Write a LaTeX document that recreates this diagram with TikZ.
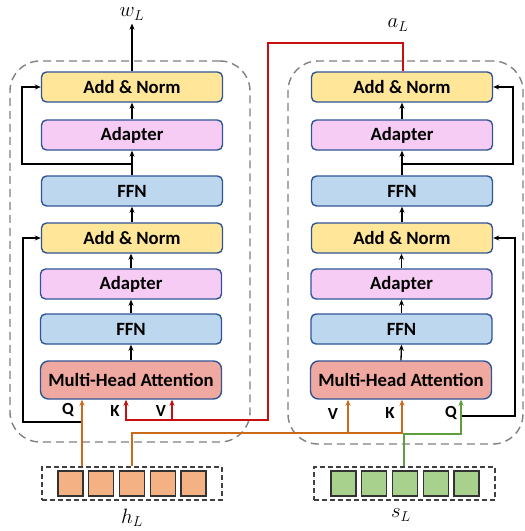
\documentclass[tikz,border=0pt]{standalone}
\usepackage{fontspec}
\setmainfont{Carlito}
\usetikzlibrary{arrows.meta,calc}
\definecolor{bordc}{HTML}{2F5597}
\definecolor{ancol}{HTML}{FFE699}
\definecolor{adcol}{HTML}{F6CCF5}
\definecolor{ffcol}{HTML}{BDD7EE}
\definecolor{mhcol}{HTML}{F0A9A0}
\definecolor{sqo}{HTML}{F4B183}
\definecolor{sqg}{HTML}{A9D18E}
\definecolor{lorange}{HTML}{CC6A1C}
\definecolor{lred}{HTML}{C80F0F}
\definecolor{lgreen}{HTML}{5E9E3C}
\definecolor{dgray}{HTML}{808080}
\begin{document}
\begin{tikzpicture}[x=1pt,y=-1pt,
  blk/.style={draw=bordc, line width=1.4pt, rounded corners=5pt, minimum width=181pt,
     minimum height=30pt, inner sep=0pt, font=\fontsize{18.7}{21}\selectfont\bfseries},
  an/.style={blk, fill=ancol},
  ad/.style={blk, fill=adcol},
  ff/.style={blk, fill=ffcol},
  mh/.style={blk, fill=mhcol, minimum height=38pt, rounded corners=8pt},
  group/.style={draw=dgray, line width=1.4pt, dash pattern=on 8pt off 5pt, rounded corners=30pt},
  vecbox/.style={draw=black!75, line width=1.2pt, dash pattern=on 5pt off 3pt, minimum width=180pt, minimum height=33pt, inner sep=0pt},
  sq/.style={draw=black!80, line width=1.2pt, minimum size=25pt, inner sep=0pt},
  arr/.style={-{Stealth[length=6pt,width=5pt]}, line width=1.3pt},
  oarr/.style={arr, color=lorange},
  rarr/.style={arr, color=lred},
  garr/.style={arr, color=lgreen},
  qkv/.style={font=\fontsize{17}{19}\selectfont\bfseries},
  mlabel/.style={font=\fontsize{20}{24}\selectfont}
]
\useasboundingbox (0,0) rectangle (525,531);

% outer dashed groups
\node[group, minimum width=240pt, minimum height=381pt] (lgroup) at (130,251.5) {};
\node[group, minimum width=235pt, minimum height=383pt] (rgroup) at (405.5,252.5) {};

% left stack
\node[an] (lan1) at (132,87) {Add \& Norm};
\node[ad] (lad1) at (132,135) {Adapter};
\node[ff] (lff1) at (132,191) {FFN};
\node[an] (lan2) at (132,238) {Add \& Norm};
\node[ad] (lad2) at (131,284) {Adapter};
\node[ff] (lff2) at (131,329) {FFN};
\node[mh] (lmh) at (131,380) {Multi-Head Attention};

% right stack
\node[an] (ran1) at (402,87) {Add \& Norm};
\node[ad] (rad1) at (402,135) {Adapter};
\node[ff] (rff1) at (402,191) {FFN};
\node[an] (ran2) at (402,238) {Add \& Norm};
\node[ad] (rad2) at (401.5,284) {Adapter};
\node[ff] (rff2) at (401.5,329) {FFN};
\node[mh] (rmh) at (401,380) {Multi-Head Attention};

% vectors
\node[vecbox] (hL) at (132,483.5) {};
\foreach \i in {0,...,4} {
  \node[sq, fill=sqo] (h\i) at ({70.5+30.75*\i},483.5) {};
}
\node[vecbox, minimum width=181pt] (sL) at (404.5,483.5) {};
\foreach \i in {0,...,4} {
  \node[sq, fill=sqg] (s\i) at ({343.5+30.75*\i},483.5) {};
}

% labels
\node[mlabel] (wL) at (132,14) {$w_L$};
\node[mlabel] (aL) at (398,25) {$a_L$};
\node[mlabel] (hLl) at (132,518) {$h_L$};
\node[mlabel] (sLl) at (401,515) {$s_L$};

\node[qkv] (lQ) at (68,410) {Q};
\node[qkv] (lK) at (115,411) {K};
\node[qkv] (lV) at (161,411) {V};
\node[qkv] (rV) at (333,414) {V};
\node[qkv] (rK) at (390,413) {K};
\node[qkv] (rQ) at (451,413) {Q};

% left stack arrows
\draw[arr] (lmh.north) -- (lff2.south);
\draw[arr] (lff2.north) -- (lad2.south);
\draw[arr] (lad2.north) -- (lan2.south -| lad2.north);
\draw[arr] (lan2.north) -- (lff1.south);
\draw[arr] (lff1.north) -- (lad1.south);
\draw[arr] (lad1.north) -- (lan1.south);
\draw[arr] (lan1.north) -- (wL.south);

% right stack arrows
\draw[arr] (rmh.north) -- (rff2.south);
\draw[arr] (rff2.north) -- (rad2.south);
\draw[arr] (rad2.north) -- (ran2.south -| rad2.north);
\draw[arr] (ran2.north) -- (rff1.south);
\draw[arr] (rff1.north) -- (rad1.south);
\draw[arr] (rad1.north) -- (ran1.south);

% residuals
\coordinate (lr1) at (132,164);
\draw[arr] (lr1) -- (22,164) |- (lan1.west);
\coordinate (lq) at (82,422);
\draw[arr] (lq) -- (23,422) |- (lan2.west);
\coordinate (rr1) at (402,164);
\draw[arr] (rr1) -- (513,164) |- (ran1.east);
\coordinate (rq) at (461,416);
\draw[arr] (rq) -- (515,416) |- (ran2.east);

% orange lines from h_L
\draw[oarr] (hL.north -| lq) -- (lmh.south -| lq);
\coordinate (ob) at (132,433);
\draw[oarr] (hL.north) -- (ob) -| (rmh.south -| 402,0);
\draw[oarr] (ob -| 348,0) -- (rmh.south -| 348,0);

% red line from a_L
\coordinate (rt) at (403,43);
\draw[rarr] (ran1.north -| rt) -- (rt) -| (268,420) -| (lmh.south -| 126,0);
\draw[rarr] (172,420) -- (lmh.south -| 172,0);

% green line from s_L
\draw[garr] (sL.north -| 404,0) |- (461,434) -- (rmh.south -| rq);
\end{tikzpicture}
\end{document}
